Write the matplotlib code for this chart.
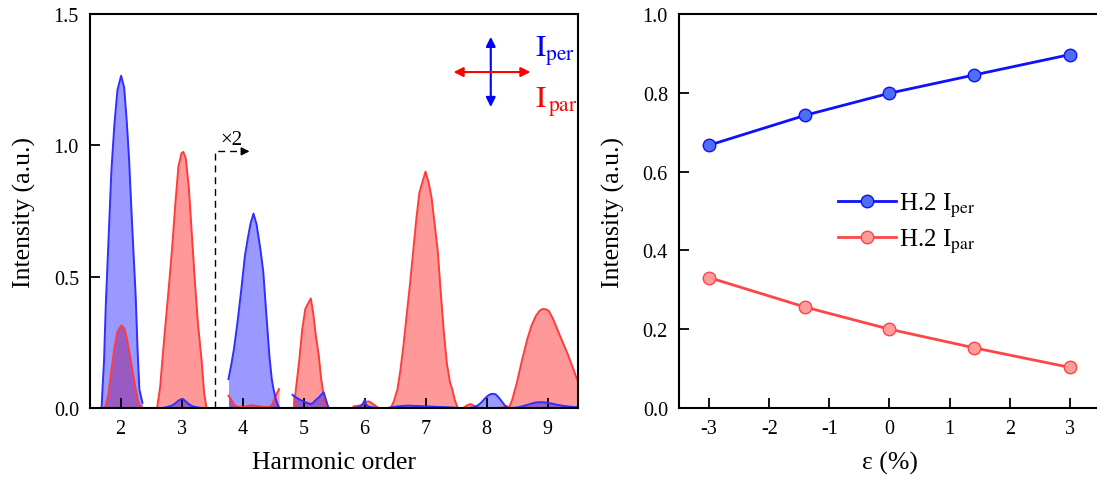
import matplotlib
matplotlib.use('Agg')
import matplotlib.pyplot as plt

plt.rcParams['font.family'] = ['Liberation Serif', 'DejaVu Serif']
plt.rcParams['mathtext.fontset'] = 'stix'
plt.rcParams['axes.unicode_minus'] = False

# Harmonic spectra, one window per harmonic (values right of the dashed line are x2)
h2_x = [1.69, 1.70, 1.73, 1.76, 1.80, 1.85, 1.90, 1.95, 2.01, 2.06, 2.10, 2.14, 2.19, 2.25, 2.28, 2.31, 2.36]
h2_per = [0, 0.05, 0.18, 0.40, 0.62, 0.90, 1.08, 1.21, 1.265, 1.22, 1.10, 0.95, 0.70, 0.42, 0.22, 0.07, 0.02]
h2_par = [0, 0, 0, 0.01, 0.05, 0.14, 0.23, 0.29, 0.314, 0.305, 0.27, 0.22, 0.15, 0.07, 0.035, 0.012, 0]

h3_x = [2.60, 2.65, 2.70, 2.75, 2.80, 2.85, 2.90, 2.95, 3.00, 3.03, 3.07, 3.12, 3.17, 3.22, 3.27, 3.33, 3.37, 3.41]
h3_per = [0, 0, 0, 0.003, 0.006, 0.01, 0.018, 0.028, 0.034, 0.033, 0.025, 0.015, 0.008, 0.004, 0.002, 0, 0, 0]
h3_par = [0, 0.08, 0.22, 0.35, 0.48, 0.62, 0.78, 0.92, 0.97, 0.975, 0.95, 0.84, 0.66, 0.48, 0.32, 0.18, 0.06, 0]

h4_x = [3.77, 3.82, 3.86, 3.92, 3.98, 4.04, 4.09, 4.13, 4.18, 4.23, 4.29, 4.34, 4.39, 4.44, 4.48, 4.51, 4.55, 4.60]
h4_per = [0.11, 0.17, 0.225, 0.33, 0.45, 0.58, 0.65, 0.70, 0.74, 0.70, 0.61, 0.52, 0.36, 0.20, 0.11, 0.07, 0.03, 0]
h4_par = [0.047, 0.03, 0.012, 0.004, 0.003, 0.005, 0.008, 0.01, 0.01, 0.008, 0.006, 0.004, 0.003, 0.004, 0.01, 0.025, 0.05, 0.072]

h5_x = [4.82, 4.84, 4.88, 4.93, 4.98, 5.03, 5.08, 5.12, 5.16, 5.20, 5.25, 5.29, 5.33, 5.37, 5.41]
h5_per = [0.05, 0.046, 0.04, 0.033, 0.027, 0.022, 0.018, 0.015, 0.02, 0.03, 0.04, 0.05, 0.06, 0.03, 0]
h5_par = [0, 0, 0.08, 0.18, 0.30, 0.377, 0.40, 0.417, 0.36, 0.28, 0.20, 0.11, 0.047, 0, 0]

h6_x = [5.82, 5.88, 5.94, 5.98, 6.00, 6.03, 6.07, 6.12, 6.18, 6.23]
h6_per = [0, 0.002, 0.006, 0.02, 0.028, 0.012, 0.005, 0.003, 0.001, 0]
h6_par = [0.006, 0.008, 0.01, 0.015, 0.02, 0.024, 0.025, 0.018, 0.008, 0]

h7_x = [6.39, 6.44, 6.48, 6.54, 6.59, 6.64, 6.69, 6.75, 6.80, 6.85, 6.90, 6.95, 7.00, 7.05, 7.10, 7.15, 7.20, 7.25, 7.30, 7.35, 7.40, 7.44, 7.48, 7.53]
h7_per = [0, 0.002, 0.004, 0.006, 0.007, 0.008, 0.009, 0.009, 0.008, 0.008, 0.007, 0.007, 0.006, 0.006, 0.005, 0.005, 0.004, 0.004, 0.003, 0.003, 0.002, 0.002, 0.001, 0]
h7_par = [0, 0.005, 0.025, 0.07, 0.146, 0.24, 0.35, 0.48, 0.60, 0.72, 0.82, 0.86, 0.90, 0.86, 0.80, 0.70, 0.60, 0.44, 0.29, 0.17, 0.10, 0.07, 0.03, 0]

h8_x = [7.62, 7.68, 7.74, 7.80, 7.86, 7.92, 7.98, 8.03, 8.07, 8.11, 8.15, 8.20, 8.25, 8.30, 8.35]
h8_per = [0, 0, 0.001, 0.003, 0.01, 0.022, 0.038, 0.048, 0.053, 0.054, 0.052, 0.04, 0.025, 0.01, 0]
h8_par = [0, 0.01, 0.015, 0.008, 0.002, 0, 0, 0, 0, 0, 0, 0, 0.002, 0.004, 0.006]

h9_x = [8.37, 8.42, 8.50, 8.58, 8.67, 8.74, 8.81, 8.87, 8.92, 8.97, 9.02, 9.09, 9.16, 9.24, 9.33, 9.42, 9.50]
h9_per = [0, 0, 0.002, 0.006, 0.012, 0.017, 0.021, 0.022, 0.022, 0.021, 0.019, 0.016, 0.012, 0.009, 0.006, 0.004, 0.003]
h9_par = [0, 0.03, 0.098, 0.18, 0.263, 0.315, 0.351, 0.37, 0.377, 0.376, 0.37, 0.34, 0.30, 0.255, 0.206, 0.15, 0.10]

# H.2 intensity vs strain
strain = [-3, -1.4, 0, 1.4, 3]
h2_per_strain = [0.667, 0.743, 0.799, 0.845, 0.897]
h2_par_strain = [0.331, 0.256, 0.200, 0.153, 0.103]

BLUE = '#2f2fff'
RED = '#ff3c3c'

fig = plt.figure(figsize=(10.97, 4.85), dpi=100)
ax1 = fig.add_axes([90/1097, 1 - 409/485, 488/1097, 394/485])
ax2 = fig.add_axes([679/1097, 1 - 409/485, 421/1097, 394/485])

segments = [
    (h2_x, h2_per, h2_par), (h3_x, h3_per, h3_par), (h4_x, h4_per, h4_par),
    (h5_x, h5_per, h5_par), (h6_x, h6_per, h6_par), (h7_x, h7_per, h7_par),
    (h8_x, h8_per, h8_par), (h9_x, h9_per, h9_par),
]
# red first so the blue sits on top (purple overlap)
for x, per, par in segments:
    ax1.fill_between(x, par, 0, color='red', alpha=0.4, lw=0)
    ax1.plot(x, par, color=RED, lw=1.4)
for x, per, par in segments:
    ax1.fill_between(x, per, 0, color='blue', alpha=0.4, lw=0)
    ax1.plot(x, per, color=BLUE, lw=1.4)

# x2 marker
ax1.plot([3.55, 3.55, 3.97], [0, 0.977, 0.977], color='k', lw=1, ls=(0, (5, 3.5)))
ax1.annotate('', xy=(4.16, 0.977), xytext=(3.97, 0.977),
             arrowprops=dict(arrowstyle='-|>', color='k', lw=1, mutation_scale=12))
ax1.text(3.64, 0.985, '×2', fontsize=15, ha='left', va='bottom')

# polarization arrows
ax1.annotate('', xy=(8.07, 1.413), xytext=(8.07, 1.146),
             arrowprops=dict(arrowstyle='<|-|>', color='blue', lw=1.5, mutation_scale=14,
                             shrinkA=0, shrinkB=0))
ax1.annotate('', xy=(8.72, 1.279), xytext=(7.46, 1.279),
             arrowprops=dict(arrowstyle='<|-|>', color='red', lw=1.5, mutation_scale=14,
                             shrinkA=0, shrinkB=0))
ax1.text(8.79, 1.341, r'$\mathrm{I}_{\mathrm{per}}$', color='blue', fontsize=22, va='baseline')
ax1.text(8.79, 1.146, r'$\mathrm{I}_{\,\mathrm{par}}$', color='red', fontsize=22, va='baseline')

ax1.set_xlim(1.5, 9.5)
ax1.set_ylim(0, 1.5)
ax1.set_xticks([2, 3, 4, 5, 6, 7, 8, 9])
ax1.set_yticks([0, 0.5, 1.0, 1.5])
ax1.set_yticklabels(['0.0', '0.5', '1.0', '1.5'])
ax1.set_xlabel('Harmonic order', fontsize=18.5, labelpad=9)
ax1.set_ylabel('Intensity (a.u.)', fontsize=18.5, labelpad=13)

ax2.plot(strain, h2_per_strain, color='#1010ff', lw=2, marker='o', ms=9,
         mfc='#4d6ef5', mec='#1010ff', mew=1, label=r'H.2 I$_{\mathrm{per}}$')
ax2.plot(strain, h2_par_strain, color='#ff4545', lw=2, marker='o', ms=9,
         mfc='#ff9c9c', mec='#ff4545', mew=1, label=r'H.2 I$_{\mathrm{par}}$')
ax2.set_xlim(-3.5, 3.5)
ax2.set_ylim(0, 1.0)
ax2.set_xticks([-3, -2, -1, 0, 1, 2, 3])
ax2.set_yticks([0, 0.2, 0.4, 0.6, 0.8, 1.0])
ax2.set_yticklabels(['0.0', '0.2', '0.4', '0.6', '0.8', '1.0'])
ax2.set_xlabel('ε (%)', fontsize=18.5, labelpad=9)
ax2.set_ylabel('Intensity (a.u.)', fontsize=18.5, labelpad=13)
ax2.legend(loc='center left', bbox_to_anchor=(0.378, 0.47), frameon=False, fontsize=18,
           borderpad=0, borderaxespad=0, handlelength=2.3, handletextpad=0.15,
           labelspacing=0.3)

for ax in (ax1, ax2):
    ax.tick_params(direction='in', length=7, width=1.3, labelsize=14.5, pad=8,
                   top=False, right=False)
    for s in ax.spines.values():
        s.set_linewidth(1.5)

fig.savefig('out.png', dpi=100)
